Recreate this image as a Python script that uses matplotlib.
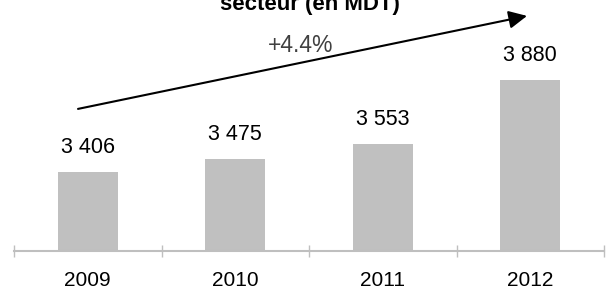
import matplotlib
matplotlib.use("Agg")
import matplotlib.pyplot as plt

plt.rcParams["font.family"] = ["Liberation Sans", "DejaVu Sans"]

# data
years = ["2009", "2010", "2011", "2012"]
values = [3406, 3475, 3553, 3880]
value_labels = ["3 406", "3 475", "3 553", "3 880"]
growth_label = "+4.4%"
title = "secteur (en MDT)"

fig = plt.figure(figsize=(6.08, 2.91), dpi=100)
ax = fig.add_axes([14 / 608, 40 / 291, 590 / 608, 251 / 291])

x = list(range(len(years)))
bars = ax.bar(x, values, width=0.41, color="#c0c0c0", zorder=2)

ax.set_xlim(-0.5, len(years) - 0.5)
ax.set_ylim(3000, 4293)

# value labels above each bar
for b, lab in zip(bars, value_labels):
    ax.annotate(lab, (b.get_x() + b.get_width() / 2, b.get_height()),
                xytext=(0, 19), textcoords="offset pixels",
                ha="center", va="baseline", fontsize=15.5, color="#000000")

# axis styling
for s in ["top", "left", "right"]:
    ax.spines[s].set_visible(False)
ax.spines["bottom"].set_color("#bfbfbf")
ax.spines["bottom"].set_linewidth(1.5)
ax.set_yticks([])

ax.set_xticks(x)
ax.set_xticklabels(years, fontsize=15)
ax.tick_params(axis="x", which="major", length=0, pad=14.5)
ax.set_xticks([i - 0.5 for i in range(len(years) + 1)], minor=True)
ax.tick_params(axis="x", which="minor", direction="inout", length=8,
               width=1, color="#bfbfbf")

# growth arrow
ax.annotate("", xy=(2.978, 4211), xytext=(-0.066, 3732),
            arrowprops=dict(arrowstyle="-|>,head_length=0.55,head_width=0.27",
                            mutation_scale=20, color="black", lw=1.5,
                            shrinkA=0, shrinkB=0),
            annotation_clip=False)
fig.text(301 / 608, 1 - 45 / 291, growth_label, ha="center", va="center",
         fontsize=16.5, color="#404040")

fig.text(310 / 608, 1 - 10 / 291, title, ha="center", va="baseline",
         fontsize=16, fontweight="bold")

fig.savefig("out.png", dpi=100)
